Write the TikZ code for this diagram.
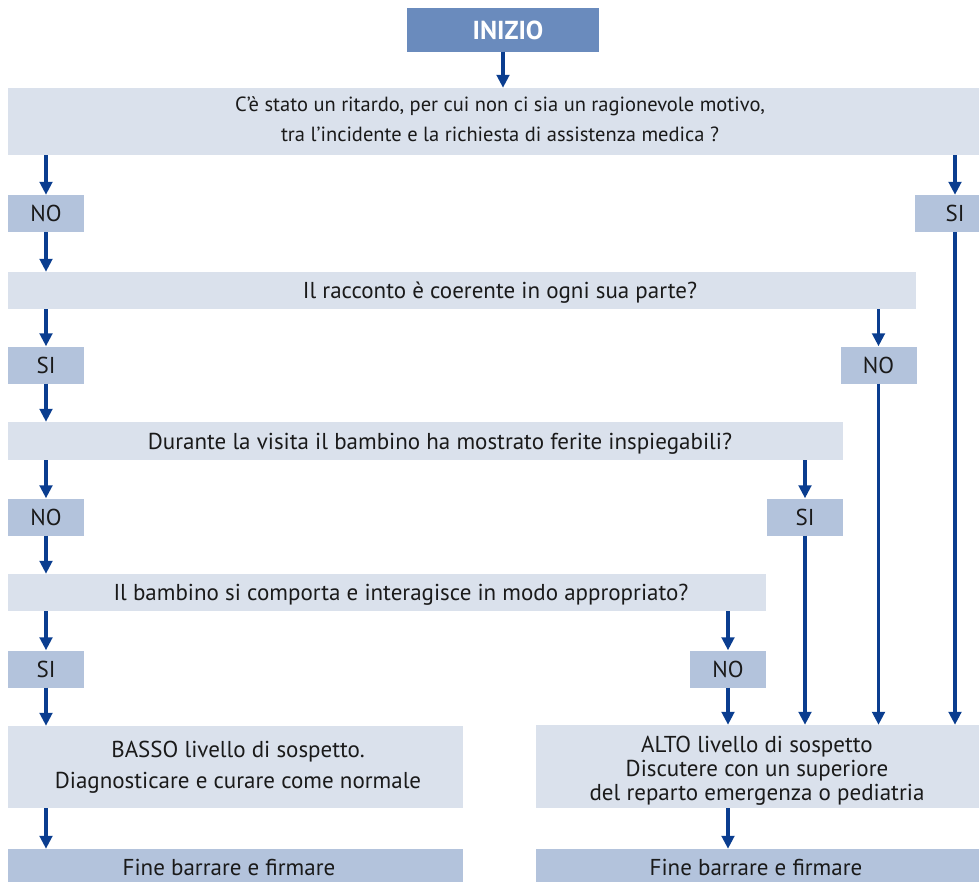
\documentclass[tikz,border=0pt]{standalone}
\usepackage{fontspec}
\setmainfont{PT Sans}
\usetikzlibrary{arrows.meta}

\definecolor{startfill}{HTML}{6A8BBD}
\definecolor{qfill}{HTML}{DAE1EC}
\definecolor{afill}{HTML}{B3C3DC}
\definecolor{arrowblue}{HTML}{0A3D8F}
\definecolor{testo}{HTML}{1A1A1A}

\tikzset{
  inizio/.style={rectangle, fill=startfill, inner sep=0pt,
    minimum width=192pt, minimum height=44pt},
  domanda/.style={rectangle, fill=qfill, inner sep=0pt, minimum height=37pt},
  risposta/.style={rectangle, fill=afill, text=testo, inner sep=0pt,
    minimum width=76pt, minimum height=37pt, text height=16pt, text depth=0pt,
    font=\fontsize{23}{28}\selectfont},
  scritta/.style={text=testo, align=center, inner sep=0pt, font=\fontsize{23}{30}\selectfont},
  freccia/.style={draw=arrowblue, line width=3.3pt, -{Triangle[width=12.5pt,length=13pt]}},
}

\begin{document}
\begin{tikzpicture}[x=1pt,y=-1pt]
  \clip (0,0) rectangle (979,881);

  % start
  \node[inizio]   (start) at (503,29.5) {};
  \node[scritta, text=white, anchor=base, font=\fontsize{26}{30}\selectfont\bfseries]
                  (startt) at (508,39) {INIZIO};

  % first question
  \node[domanda, minimum width=984pt, minimum height=67pt] (q1) at (500,121.5) {};
  \node[scritta, font=\fontsize{20.5}{30}\selectfont] (q1t) at (500,119)
    {C’è stato un ritardo, per cui non ci sia un ragionevole motivo,\\tra l’incidente e la richiesta di assistenza medica ?};
  \node[risposta] (no1) at (46,213.5)  {NO};
  \node[risposta, minimum width=80pt] (si1) at (955,213.5) {SI};

  % second question
  \node[domanda, minimum width=908pt] (q2) at (462,290.5) {};
  \node[scritta, anchor=base] (q2t) at (500,298) {Il racconto è coerente in ogni sua parte?};
  \node[risposta] (si2) at (46,365)    {SI};
  \node[risposta] (no2) at (878.5,365) {NO};

  % third question
  \node[domanda, minimum width=835pt, minimum height=38pt] (q3) at (425.5,441) {};
  \node[scritta, anchor=base] (q3t) at (440,449) {Durante la visita il bambino ha mostrato ferite inspiegabili?};
  \node[risposta] (no3) at (46,517)    {NO};
  \node[risposta] (si3) at (805,517)   {SI};

  % fourth question
  \node[domanda, minimum width=758pt] (q4) at (387,592.5) {};
  \node[scritta, anchor=base] (q4t) at (401,600) {Il bambino si comporta e interagisce in modo appropriato?};
  \node[risposta] (si4) at (46,669)    {SI};
  \node[risposta] (no4) at (728,669)   {NO};

  % outcomes
  \node[domanda, minimum width=455pt, minimum height=82pt] (basso) at (235.5,767) {};
  \node[scritta, font=\fontsize{23}{31}\selectfont] (bassot) at (238,767.5)
    {BASSO livello di sospetto.\\Diagnosticare e curare come normale};
  \node[domanda, minimum width=443pt, minimum height=83pt] (alto) at (757.5,766.5) {};
  \node[scritta, font=\fontsize{23}{24}\selectfont] (altot) at (757,771)
    {ALTO livello di sospetto\\Discutere con un superiore\\del reparto emergenza o pediatria};
  \node[risposta, minimum width=455pt] (fine1) at (235.5,867.5) {};
  \node[scritta, anchor=base] (fine1t) at (229,875) {Fine barrare e firmare};
  \node[risposta, minimum width=443pt] (fine2) at (757.5,867.5) {};
  \node[scritta, anchor=base] (fine2t) at (756,875) {Fine barrare e firmare};

  % connectors
  \draw[freccia] (start) -- (start |- q1.north);
  \draw[freccia] (no1 |- q1.south) -- (no1);
  \draw[freccia] (si1 |- q1.south) -- (si1);
  \draw[freccia] (no1) -- (no1 |- q2.north);
  \draw[freccia] (si2 |- q2.south) -- (si2);
  \draw[freccia] (no2 |- q2.south) -- (no2);
  \draw[freccia] (si2) -- (si2 |- q3.north);
  \draw[freccia] (no3 |- q3.south) -- (no3);
  \draw[freccia] (si3 |- q3.south) -- (si3);
  \draw[freccia] (no3) -- (no3 |- q4.north);
  \draw[freccia] (si4 |- q4.south) -- (si4);
  \draw[freccia] (no4 |- q4.south) -- (no4);
  \draw[freccia] (si4) -- (si4 |- basso.north);
  \draw[freccia] (no4) -- (no4 |- alto.north);
  \draw[freccia] (si3) -- (si3 |- alto.north);
  \draw[freccia] (no2) -- (no2 |- alto.north);
  \draw[freccia] (si1) -- (si1 |- alto.north);
  \draw[freccia] (basso.south -| si4) -- (si4 |- fine1.north);
  \draw[freccia] (alto.south -| no4) -- (no4 |- fine2.north);
\end{tikzpicture}
\end{document}
